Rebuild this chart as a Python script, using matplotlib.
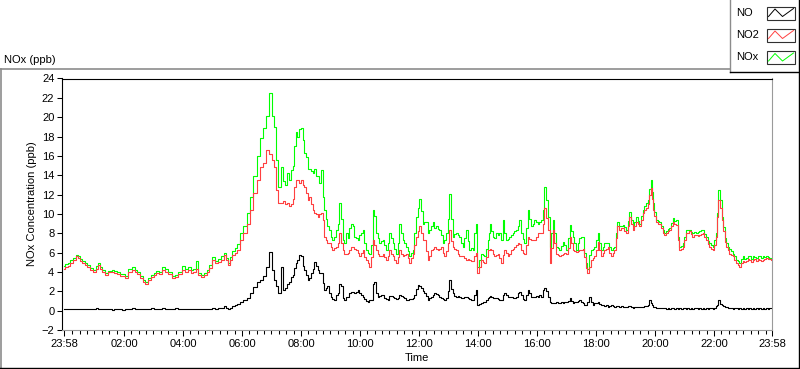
import numpy as np
import matplotlib
matplotlib.use("Agg")
import matplotlib.pyplot as plt
from matplotlib.patches import Rectangle

plt.rcParams['font.family'] = ['Liberation Sans', 'DejaVu Sans']
plt.rcParams['font.size'] = 8

# hours elapsed since the first sample (23:58 of the previous day)
elapsed_h = [
    # 23:58 - 04:00
    0.00, 0.09, 0.17, 0.26, 0.35, 0.43, 0.50, 0.58, 0.65, 0.74, 0.82, 0.94, 1.05, 1.12, 1.20,
    1.27, 1.33, 1.45, 1.56, 1.67, 1.75, 1.84, 1.93, 2.01, 2.12, 2.24, 2.35, 2.44, 2.52, 2.63,
    2.72, 2.80, 2.92, 3.00, 3.09, 3.18, 3.26, 3.37, 3.48, 3.60, 3.70, 3.82, 3.93,
    # 04:00 - 08:10
    4.04, 4.16, 4.25, 4.33, 4.42, 4.50, 4.60, 4.72, 4.80, 4.89,
    4.97, 5.06, 5.18, 5.29, 5.38, 5.46, 5.52, 5.57, 5.66, 5.74,
    5.83, 5.91, 6.02, 6.14, 6.25, 6.36, 6.47, 6.59, 6.70, 6.82,
    6.90, 6.99, 7.08, 7.16, 7.24, 7.30, 7.38, 7.46, 7.53, 7.60,
    7.66, 7.72, 7.78, 7.83, 7.89, 7.94, 8.00, 8.06, 8.12, 8.17,
    # 08:10 - 12:15
    8.23, 8.29, 8.34, 8.40, 8.45, 8.51, 8.57, 8.63, 8.68, 8.74,
    8.80, 8.85, 8.90, 8.96, 9.02, 9.07, 9.13, 9.19, 9.25, 9.30,
    9.36, 9.42, 9.47, 9.53, 9.59, 9.64, 9.70, 9.76, 9.81, 9.87,
    9.93, 9.98, 10.04, 10.10, 10.15, 10.21, 10.26, 10.32, 10.38, 10.43,
    10.49, 10.55, 10.60, 10.66, 10.72, 10.78, 10.83, 10.89, 10.94, 11.00,
    11.06, 11.11, 11.17, 11.22, 11.28, 11.34, 11.39, 11.45, 11.50, 11.56,
    11.62, 11.68, 11.73, 11.79, 11.84, 11.90, 11.96, 12.01, 12.07, 12.13,
    12.18, 12.24,
    # 12:15 - 16:20
    12.30, 12.35, 12.41, 12.47, 12.52, 12.58, 12.64, 12.69, 12.75, 12.81,
    12.86, 12.92, 12.98, 13.04, 13.09, 13.15, 13.20, 13.26, 13.31, 13.37,
    13.43, 13.48, 13.54, 13.60, 13.65, 13.71, 13.77, 13.82, 13.88, 13.93,
    13.97, 14.05, 14.11, 14.16, 14.22, 14.28, 14.33, 14.39, 14.44, 14.47,
    14.50, 14.56, 14.62, 14.67, 14.73, 14.79, 14.84, 14.90, 14.96, 15.01,
    15.07, 15.12, 15.18, 15.24, 15.30, 15.35, 15.41, 15.44, 15.52, 15.58,
    15.63, 15.69, 15.74, 15.80, 15.86, 15.91, 15.97, 16.03, 16.08, 16.14,
    16.20, 16.25, 16.31,
    # 16:20 - 20:20
    16.36, 16.42, 16.50, 16.55, 16.59, 16.65, 16.70, 16.76, 16.82, 16.88,
    16.93, 16.99, 17.05, 17.11, 17.18, 17.22, 17.27, 17.33, 17.38, 17.44,
    17.50, 17.55, 17.61, 17.66, 17.70, 17.78, 17.84, 17.89, 17.95, 18.01,
    18.06, 18.12, 18.18, 18.23, 18.29, 18.35, 18.40, 18.46, 18.52, 18.57,
    18.63, 18.69, 18.73, 18.77, 18.85, 18.91, 18.97, 19.02, 19.08, 19.14,
    19.19, 19.25, 19.31, 19.36, 19.42, 19.48, 19.53, 19.59, 19.65, 19.70,
    19.76, 19.82, 19.87, 19.90, 19.94, 19.98, 20.04, 20.10, 20.16, 20.21,
    20.27, 20.33,
    # 20:20 - 23:58
    20.38, 20.44, 20.50, 20.55, 20.61, 20.66, 20.72, 20.78, 20.83, 20.89,
    20.94, 21.00, 21.05, 21.10, 21.17, 21.23, 21.28, 21.33, 21.39, 21.45,
    21.51, 21.57, 21.62, 21.68, 21.74, 21.79, 21.85, 21.90, 21.96, 22.02,
    22.07, 22.11, 22.15, 22.20, 22.27, 22.33, 22.37, 22.41, 22.47, 22.52,
    22.58, 22.64, 22.70, 22.75, 22.81, 22.87, 22.92, 22.98, 23.03, 23.09,
    23.15, 23.20, 23.26, 23.32, 23.37, 23.43, 23.49, 23.55, 23.60, 23.66,
    23.71, 23.77, 23.83, 23.89, 23.94, 24.00,
]

no2 = [
    4.3, 4.5, 4.6, 4.95, 5.2, 5.6, 5.4, 5.1, 4.9, 4.7, 4.5, 4.2, 4.0, 4.3, 4.7,
    4.3, 4.0, 3.7, 3.95, 4.0, 3.9, 3.8, 3.6, 3.55, 3.35, 4.0, 4.2, 4.0, 3.8, 3.35,
    3.0, 2.75, 3.2, 3.5, 3.7, 3.9, 3.8, 4.2, 4.0, 3.8, 3.35, 3.5, 3.8,
    4.2, 4.0, 4.2, 3.9, 4.0, 4.35, 3.7, 3.5, 3.7, 4.0,
    4.4, 5.2, 4.9, 5.0, 5.2, 5.75, 5.2, 4.7, 5.2, 5.75,
    6.0, 6.3, 7.3, 8.0, 9.0, 10.4, 12.2, 13.5, 14.9, 15.25,
    16.6, 16.2, 15.6, 14.8, 12.5, 11.1, 11.1, 11.3, 11.0, 11.1,
    10.8, 11.0, 11.5, 12.8, 13.5, 13.5, 13.2, 13.5, 13.0, 12.8,
    12.2, 11.45, 11.8, 11.0, 10.4, 10.1, 10.0, 9.7, 10.0, 10.1,
    9.4, 7.65, 7.3, 7.0, 7.0, 6.6, 6.27, 6.5, 6.6, 7.0,
    8.0, 7.0, 6.27, 5.9, 5.9, 6.0, 6.27, 6.6, 6.6, 6.4,
    6.27, 6.0, 5.6, 6.0, 6.27, 5.5, 5.2, 4.9, 4.55, 5.5,
    7.3, 6.8, 6.27, 5.9, 5.6, 5.7, 5.9, 5.5, 5.2, 5.7,
    6.27, 5.9, 5.6, 5.2, 4.9, 5.5, 6.27, 5.9, 5.6, 5.8,
    5.9, 5.4, 4.9, 5.4, 5.9, 6.8, 7.65, 8.2, 8.7, 8.0,
    7.3, 7.3,
    6.2, 5.2, 5.6, 6.27, 6.4, 6.6, 6.4, 6.27, 6.4, 6.6,
    6.0, 5.6, 6.2, 7.0, 8.35, 7.2, 6.6, 6.4, 6.27, 5.9,
    5.6, 5.6, 5.6, 5.4, 5.2, 5.3, 5.2, 5.1, 5.1, 5.6,
    6.0, 3.85, 4.5, 5.2, 5.0, 4.9, 5.5, 6.27, 6.27, 6.4,
    6.27, 5.9, 5.6, 5.8, 5.9, 5.4, 4.9, 5.8, 6.27, 6.0,
    5.6, 5.9, 6.27, 6.4, 6.6, 6.8, 6.95, 6.9, 6.27, 6.0,
    5.9, 6.8, 7.65, 7.4, 7.3, 7.3, 7.3, 7.6, 8.0, 8.0,
    8.0, 9.0, 10.6,
    9.6, 8.35, 4.9, 6.5, 8.35, 7.0, 5.9, 5.8, 5.6, 5.8,
    5.9, 6.0, 5.9, 6.5, 7.65, 7.0, 6.27, 6.2, 6.1, 6.2,
    6.27, 6.3, 6.4, 5.5, 4.4, 3.85, 4.5, 5.2, 5.4, 5.6,
    6.3, 7.1, 6.3, 5.6, 6.0, 6.27, 6.4, 6.6, 6.0, 5.6,
    6.0, 6.27, 7.5, 8.7, 8.35, 8.5, 8.5, 8.2, 8.0, 8.8,
    9.7, 9.0, 8.35, 8.8, 9.2, 9.0, 8.7, 9.4, 10.1, 10.4,
    10.6, 11.0, 12.0, 12.65, 11.5, 10.4, 9.8, 9.2, 9.0, 9.0,
    8.5, 8.0,
    7.8, 8.0, 8.2, 8.35, 8.8, 9.2, 9.0, 8.85, 7.3, 6.27,
    6.4, 6.6, 7.3, 8.0, 8.0, 8.2, 7.9, 7.65, 7.8, 7.8,
    7.7, 7.8, 7.9, 8.0, 7.6, 7.3, 6.9, 6.6, 6.4, 6.27,
    6.8, 7.65, 9.7, 11.45, 10.6, 9.4, 8.2, 7.1, 6.6, 6.27,
    5.9, 5.8, 5.6, 5.2, 4.9, 4.7, 4.55, 4.9, 5.1, 5.0,
    5.1, 5.3, 5.2, 5.0, 5.2, 5.3, 5.1, 5.3, 5.2, 5.1,
    5.2, 5.3, 5.4, 5.3, 5.3, 5.2,
]

nox = [
    4.6, 4.8, 4.9, 5.2, 5.4, 5.8, 5.6, 5.3, 5.1, 4.9, 4.7, 4.4, 4.2, 4.6, 4.95,
    4.5, 4.2, 3.9, 4.15, 4.2, 4.1, 4.0, 3.8, 3.75, 3.55, 4.3, 4.5, 4.2, 4.0, 3.55,
    3.2, 2.95, 3.4, 3.7, 3.9, 4.1, 4.0, 4.5, 4.3, 4.0, 3.55, 3.7, 4.0,
    4.6, 4.35, 4.5, 4.2, 4.3, 5.1, 3.9, 3.7, 3.9, 4.2,
    4.7, 5.5, 5.1, 5.3, 5.6, 6.0, 5.4, 4.9, 5.5, 6.2,
    6.5, 6.9, 8.0, 8.8, 10.1, 11.8, 13.9, 16.0, 17.9, 18.9,
    20.1, 22.5, 20.1, 19.0, 15.6, 12.8, 14.8, 13.4, 13.0, 14.2,
    13.5, 14.5, 15.0, 17.0, 18.5, 18.0, 18.8, 18.9, 17.6, 16.3,
    15.9, 14.6, 14.6, 14.4, 14.2, 14.6, 13.9, 13.9, 13.2, 14.5,
    11.8, 10.4, 9.5, 8.7, 8.3, 7.65, 7.3, 7.6, 8.3, 9.0,
    11.1, 9.5, 7.3, 7.0, 8.0, 7.5, 8.5, 9.0, 8.7, 7.65,
    7.5, 7.3, 7.8, 8.0, 8.3, 7.0, 6.27, 6.0, 5.9, 6.8,
    10.4, 9.8, 8.0, 7.5, 7.0, 7.2, 7.3, 6.8, 6.27, 7.0,
    8.0, 7.5, 7.0, 6.4, 5.9, 7.0, 9.0, 8.0, 7.3, 7.0,
    6.6, 6.2, 5.6, 6.0, 6.27, 8.0, 9.7, 10.6, 11.5, 10.3,
    9.0, 9.2,
    9.2, 8.0, 8.35, 8.8, 9.2, 8.5, 8.7, 8.4, 8.35, 7.8,
    6.95, 7.3, 8.0, 9.5, 12.1, 9.5, 7.65, 7.9, 8.0, 7.8,
    7.65, 7.0, 6.6, 7.5, 8.35, 7.2, 6.27, 6.5, 6.27, 8.0,
    9.0, 4.55, 5.2, 5.9, 5.8, 5.6, 6.4, 7.3, 8.0, 9.0,
    8.2, 7.65, 7.5, 8.0, 7.8, 8.0, 7.3, 9.4, 8.0, 7.3,
    7.4, 7.65, 7.8, 8.0, 8.2, 8.35, 8.8, 9.4, 8.0, 7.4,
    6.95, 8.5, 10.4, 9.5, 8.7, 9.0, 9.4, 9.2, 9.0, 9.2,
    9.4, 10.4, 12.8,
    11.45, 9.7, 6.6, 8.0, 9.4, 8.0, 6.6, 6.5, 6.27, 6.7,
    7.1, 6.8, 6.27, 7.5, 8.85, 8.2, 7.65, 7.0, 6.27, 7.0,
    7.5, 7.6, 7.65, 6.0, 4.9, 4.3, 5.8, 6.27, 6.4, 6.6,
    7.3, 8.0, 7.0, 6.27, 6.6, 6.95, 7.0, 6.95, 6.6, 6.27,
    6.5, 6.6, 8.0, 9.2, 8.7, 8.8, 8.85, 8.6, 8.35, 9.3,
    10.25, 9.4, 8.7, 9.2, 9.7, 9.3, 9.0, 9.8, 10.4, 10.8,
    11.1, 11.45, 12.6, 13.5, 12.3, 11.1, 10.2, 9.4, 9.3, 9.2,
    8.7, 8.35,
    8.0, 8.2, 8.4, 8.5, 9.1, 9.55, 9.3, 9.4, 7.65, 6.6,
    6.7, 6.95, 7.6, 8.35, 8.3, 8.35, 8.1, 8.0, 8.1, 8.0,
    8.1, 8.2, 8.3, 8.35, 7.9, 7.65, 7.2, 6.95, 6.8, 6.6,
    7.3, 8.0, 10.1, 12.5, 11.45, 9.7, 8.6, 7.5, 7.0, 6.6,
    6.4, 6.2, 5.9, 5.6, 5.2, 5.1, 4.9, 5.3, 5.6, 5.3,
    5.4, 5.7, 5.6, 5.3, 5.6, 5.5, 5.4, 5.7, 5.6, 5.4,
    5.6, 5.5, 5.6, 5.5, 5.4, 5.3,
]

no = [
    0.2, 0.15, 0.2, 0.15, 0.2, 0.15, 0.2, 0.15, 0.2, 0.15, 0.2, 0.15, 0.2, 0.25, 0.2,
    0.15, 0.2, 0.15, 0.2, 0.1, 0.2, 0.15, 0.2, 0.1, 0.15, 0.2, 0.25, 0.2, 0.15, 0.2,
    0.15, 0.2, 0.15, 0.25, 0.2, 0.15, 0.2, 0.25, 0.2, 0.15, 0.2, 0.3, 0.2,
    0.2, 0.2, 0.15, 0.2, 0.2, 0.15, 0.2, 0.15, 0.2, 0.2,
    0.2, 0.25, 0.2, 0.25, 0.3, 0.45, 0.3, 0.2, 0.3, 0.45,
    0.55, 0.65, 0.9, 1.1, 1.3, 1.8, 2.4, 3.0, 3.2, 3.6,
    4.5, 6.1, 4.2, 3.2, 2.5, 1.8, 4.5, 2.1, 2.3, 2.8,
    3.0, 3.5, 3.7, 4.4, 4.9, 5.2, 5.8, 5.6, 4.6, 4.2,
    3.7, 3.15, 3.4, 3.9, 4.3, 5.05, 4.6, 4.2, 3.9, 3.9,
    2.9, 2.1, 2.3, 2.5, 1.8, 1.45, 1.2, 1.1, 1.6, 1.8,
    2.8, 2.5, 1.3, 1.1, 1.45, 1.45, 1.8, 1.95, 1.9, 1.8,
    1.9, 2.1, 1.8, 1.6, 1.45, 1.2, 1.0, 0.9, 1.1, 1.1,
    2.8, 3.0, 1.8, 1.45, 1.5, 1.6, 1.6, 1.3, 1.2, 1.1,
    1.5, 1.5, 1.45, 1.3, 1.2, 1.3, 1.6, 1.5, 1.45, 1.3,
    1.1, 1.1, 1.2, 1.2, 1.3, 1.6, 2.2, 2.65, 2.6, 2.3,
    2.0, 1.8,
    1.5, 1.1, 1.3, 1.45, 1.6, 1.8, 1.7, 1.6, 1.45, 1.3,
    1.2, 1.1, 1.3, 2.0, 3.15, 2.2, 1.8, 1.5, 1.45, 1.5,
    1.45, 1.3, 1.3, 1.4, 1.45, 1.3, 1.2, 1.1, 1.1, 1.6,
    2.1, 0.55, 0.7, 0.8, 0.9, 0.9, 1.1, 1.3, 1.45, 1.5,
    1.45, 1.3, 1.3, 1.3, 1.2, 1.1, 1.1, 1.6, 1.8, 1.6,
    1.45, 1.45, 1.4, 1.3, 1.3, 1.4, 1.8, 1.95, 1.6, 1.2,
    1.1, 1.6, 2.1, 1.8, 1.45, 1.45, 1.45, 1.5, 1.45, 1.6,
    1.45, 2.1, 2.3,
    2.0, 1.45, 0.9, 0.8, 0.75, 0.8, 0.9, 0.8, 0.75, 0.85,
    0.8, 0.9, 0.9, 1.0, 1.3, 1.0, 0.75, 0.85, 0.9, 1.0,
    1.1, 0.9, 0.75, 0.6, 0.55, 0.9, 1.45, 0.9, 0.6, 0.75,
    0.8, 0.9, 0.7, 0.55, 0.6, 0.5, 0.55, 0.4, 0.5, 0.55,
    0.5, 0.4, 0.45, 0.5, 0.4, 0.45, 0.4, 0.35, 0.4, 0.45,
    0.5, 0.4, 0.3, 0.35, 0.4, 0.35, 0.4, 0.35, 0.4, 0.45,
    0.5, 0.6, 1.1, 0.8, 0.6, 0.4, 0.35, 0.3, 0.3, 0.3,
    0.25, 0.3,
    0.25, 0.2, 0.25, 0.2, 0.3, 0.25, 0.2, 0.3, 0.2, 0.25,
    0.2, 0.3, 0.25, 0.2, 0.3, 0.2, 0.25, 0.2, 0.3, 0.25,
    0.2, 0.3, 0.2, 0.25, 0.2, 0.3, 0.2, 0.25, 0.3, 0.2,
    0.3, 0.45, 0.6, 1.15, 0.7, 0.55, 0.5, 0.4, 0.35, 0.3,
    0.25, 0.3, 0.2, 0.25, 0.3, 0.2, 0.25, 0.2, 0.3, 0.2,
    0.25, 0.2, 0.3, 0.2, 0.25, 0.2, 0.3, 0.2, 0.25, 0.2,
    0.3, 0.2, 0.25, 0.2, 0.3, 0.25,
]

series_names = ['NO', 'NO2', 'NOx']
series_colors = ['#000000', '#ff4040', '#00ff00']

# axis: 23:58 -> 23:58, labelled every 2 h, minor ticks every 15 min
start_offset = 2 / 60  # midnight sits 2 minutes after the first sample
label_hours = list(range(0, 24, 2))
tick_pos = [0.0] + [h + start_offset for h in label_hours[1:]] + [24.0]
tick_lab = ['23:58'] + ['%02d:00' % h for h in label_hours[1:]] + ['23:58']
minor_pos = [q + start_offset for q in np.arange(0.25, 24, 0.25) if q % 2 != 0]

W, H = 800, 369
fig = plt.figure(figsize=(W / 100, H / 100), dpi=100)
fig.patch.set_facecolor('white')


def fx(px):
    return px / W


def fy(py):
    return 1 - py / H


ax = fig.add_axes([fx(62), fy(330), fx(772) - fx(62), fy(78.5) - fy(330)])
ax.plot(elapsed_h, nox, color=series_colors[2], lw=0.8, drawstyle='steps-mid')
ax.plot(elapsed_h, no2, color=series_colors[1], lw=0.8, drawstyle='steps-mid')
ax.plot(elapsed_h, no, color=series_colors[0], lw=0.8, drawstyle='steps-mid')

ax.set_xlim(-0.068, 24.0)
ax.set_ylim(-2, 24)
ax.set_yticks(range(-2, 25, 2))
ax.set_xticks(tick_pos)
ax.set_xticklabels(tick_lab)
ax.set_xticks(minor_pos, minor=True)
ax.tick_params(axis='both', which='major', direction='out', width=0.75,
               color='black', labelsize=8, labelcolor='black')
ax.tick_params(axis='x', which='major', length=4.5, pad=2)
ax.tick_params(axis='x', which='minor', length=2.6, width=0.75, color='black')
ax.tick_params(axis='y', which='major', length=3.5, pad=2)

for side in ['left', 'top']:
    ax.spines[side].set_color('black')
    ax.spines[side].set_linewidth(0.8)
for side in ['right', 'bottom']:
    ax.spines[side].set_color('#9a9a9a')
    ax.spines[side].set_linewidth(0.8)

# panel frame, labels and legend drawn in pixel coordinates
deco = fig.add_axes([0, 0, 1, 1], zorder=5)
deco.set_xlim(0, W)
deco.set_ylim(H, 0)
deco.axis('off')
deco.patch.set_alpha(0)

deco.plot([0, 730], [69, 69], color='#8c8c8c', lw=1.2)
deco.plot([0.7, 0.7], [69, 368], color='#8c8c8c', lw=1.2)
deco.plot([0, 800], [367.5, 367.5], color='black', lw=1.0)
deco.plot([799.3, 799.3], [0, 368], color='black', lw=1.0)

deco.text(4, 60, 'NOx (ppb)', ha='left', va='center', fontsize=8)
deco.text(417, 358, 'Time', ha='center', va='center', fontsize=8)
deco.text(32, 204, 'NOx Concentration (ppb)', ha='center', va='center',
          rotation=90, fontsize=8)

# legend box
deco.add_patch(Rectangle((730, 0), 70, 72, facecolor='white', edgecolor='none'))
deco.plot([730, 730], [0, 72], color='#8c8c8c', lw=1.0)
deco.plot([730, 800], [72, 72], color='black', lw=1.0)
row_y = [13, 35, 57.5]
for name, color, cy in zip(series_names, series_colors, row_y):
    deco.text(736, cy, name, ha='left', va='center', fontsize=8)
    deco.add_patch(Rectangle((767, cy - 6.5), 28, 13, facecolor='white',
                             edgecolor='#303030', lw=0.8))
    deco.plot([768.5, 775, 782.5, 793.5], [cy + 3.5, cy - 4, cy + 3.5, cy - 4.5],
              color=color, lw=0.7)

fig.savefig('out.png', dpi=100)
